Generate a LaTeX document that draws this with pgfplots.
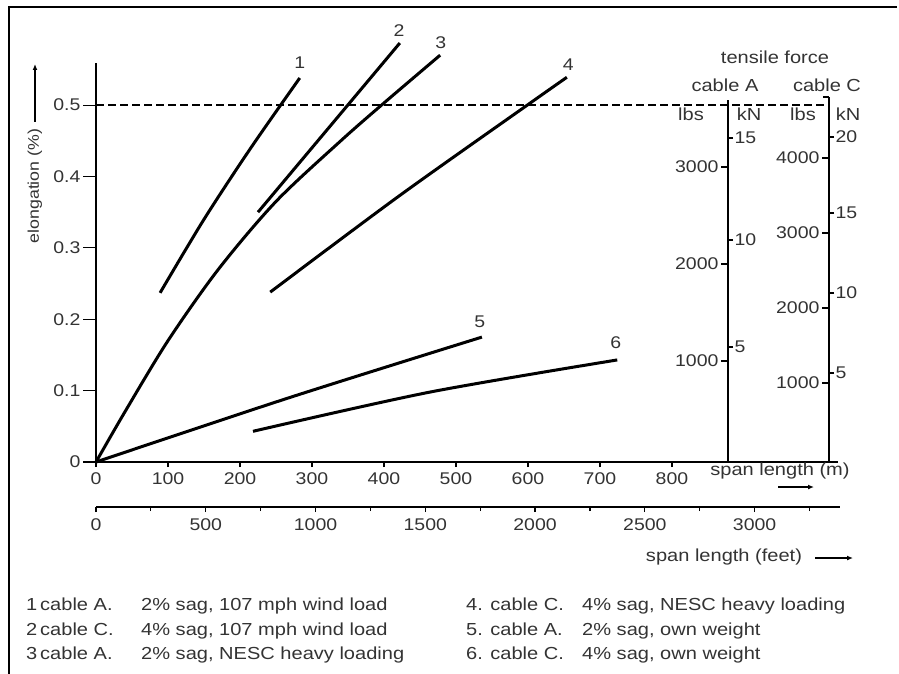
\documentclass[border=0pt]{standalone}
\usepackage{fontspec}
\setmainfont{Liberation Sans}[FakeStretch=1.15]
\usepackage{pgfplots}
\pgfplotsset{compat=1.18}
\usetikzlibrary{arrows.meta}
\begin{document}
\begin{tikzpicture}
\pgfplotsset{
  common/.style={scale only axis, anchor=south west, clip=false,
    tick align=outside,
    /pgf/number format/assume math mode=true,
    /pgf/number format/1000 sep={},
    ticklabel style={font=\fontsize{17}{17}\selectfont, text=black!80},
    tick style={line width=1.2bp, black},
    axis line style={line width=1.5bp, black}},
}
\begin{scope}[x=1bp,y=1bp]
\useasboundingbox (0,0) rectangle (899,-674);
\draw[line width=1.5bp] (9,-674) -- (9,-7) -- (897,-7);
\end{scope}

% main axis with curves
\begin{axis}[common,
  at={(96bp,-462bp)}, width=742bp, height=399bp,
  xmin=0, xmax=1030.6, ymin=0, ymax=0.559,
  axis x line*=bottom, axis y line*=left,
  xtick={0,100,200,300,400,500,600,700,800},
  ytick=\empty,
  major tick length=5bp,
  x axis line style={line width=2.4bp},
  xticklabel style={yshift=-2bp},
]
\addplot[black, line width=1.5bp, dash pattern=on 8bp off 4bp] coordinates {(0,0.5) (1018,0.5)};
% 1
\addplot[black, line width=3bp, smooth] coordinates {(89,0.237) (150,0.34) (215,0.44) (283,0.538)};
% 2
\addplot[black, line width=3bp] coordinates {(225,0.35) (422,0.587)};
% 3
\addplot[black, line width=3bp, smooth] coordinates {(0,0) (40,0.07) (100,0.17) (170,0.27) (250,0.365) (340,0.45) (400,0.503) (478,0.57)};
% 4
\addplot[black, line width=3bp, smooth] coordinates {(242,0.238) (420,0.372) (599,0.5) (654,0.539)};
% 5
\addplot[black, line width=3bp, smooth] coordinates {(0,0) (268,0.09) (536,0.175)};
% 6
\addplot[black, line width=3bp, smooth] coordinates {(218,0.043) (464,0.098) (724,0.143)};
\begin{scope}[every node/.style={font=\fontsize{17}{17}\selectfont, text=black!80}]
\node at (axis cs:283,0.559) {1};
\node at (axis cs:421,0.605) {2};
\node at (axis cs:479,0.588) {3};
\node at (axis cs:656,0.556) {4};
\node at (axis cs:533,0.196) {5};
\node at (axis cs:722,0.167) {6};
\end{scope}
\end{axis}

% y axis with long ticks
\begin{axis}[common,
  at={(96bp,-462bp)}, width=742bp, height=399bp,
  xmin=0, xmax=1030.6, ymin=0, ymax=0.559,
  axis y line*=left, axis x line=none,
  ytick={0,0.1,0.2,0.3,0.4,0.5},
  yticklabels={0,0.1,0.2,0.3,0.4,0.5},
  major tick length=13bp,
  yticklabel style={xshift=1bp},
]
\end{axis}

% feet axis
\begin{axis}[common,
  at={(96bp,-507bp)}, width=744bp, height=10bp,
  xmin=0, xmax=3389, ymin=0, ymax=1,
  axis x line*=bottom, axis y line=none,
  xtick={0,500,1000,1500,2000,2500,3000},
  minor xtick={250,750,1250,1750,2250,2750,3250},
  major tick length=5bp, minor tick length=4bp,
  x axis line style={line width=2.4bp},
  xticklabel style={yshift=-3bp},
]
\end{axis}

% cable A lbs
\begin{axis}[common,
  at={(728bp,-462bp)}, width=10bp, height=362bp,
  xmin=0, xmax=1, ymin=-41, ymax=3691,
  axis y line*=left, axis x line=none,
  ytick={1000,2000,3000}, major tick length=7bp,
  yticklabel style={xshift=1bp},
]
\end{axis}
% cable A kN
\begin{axis}[common,
  at={(718bp,-462bp)}, width=10bp, height=362bp,
  xmin=0, xmax=1, ymin=-41, ymax=3691,
  axis y line*=right, axis x line=none,
  ytick={1144,2247,3299}, yticklabels={5,10,15}, major tick length=5bp,
  yticklabel style={xshift=-2bp},
]
\end{axis}
% cable C lbs
\begin{axis}[common,
  at={(829bp,-462bp)}, width=10bp, height=365bp,
  xmin=0, xmax=1, ymin=-53, ymax=4813,
  axis y line*=left, axis x line=none,
  ytick={1000,2000,3000,4000}, major tick length=7bp,
  yticklabel style={xshift=1bp},
]
\end{axis}
% cable C kN
\begin{axis}[common,
  at={(819bp,-462bp)}, width=10bp, height=365bp,
  xmin=0, xmax=1, ymin=-53, ymax=4813,
  axis y line*=right, axis x line=none,
  ytick={1133,2200,3267,4280}, yticklabels={5,10,15,20}, major tick length=5bp,
  yticklabel style={xshift=-2bp},
]
\end{axis}

\begin{scope}[x=1bp,y=1bp, every node/.style={font=\fontsize{17.5}{17.5}\selectfont, text=black!80, inner sep=0pt}]
\draw[line width=1.5bp] (823,-97) -- (829,-97);
\node at (775,-57) {tensile force};
\node at (725,-85) {cable A};
\node at (827,-85) {cable C};
\node at (691,-114) {lbs};
\node at (749,-114) {kN};
\node at (803,-114) {lbs};
\node at (848,-114) {kN};
\node at (780,-471) {span length (m)};
\draw[line width=2bp, -{Latex[length=6bp,width=5bp]}] (778,-487) -- (814,-487);
\node at (724,-557) {span length (feet)};
\draw[line width=2bp, -{Latex[length=6bp,width=5bp]}] (815,-558) -- (853,-558);
\node[rotate=90, font=\fontsize{15.5}{15.5}\selectfont] at (35,-186) {elongation (\%)};
\draw[line width=2bp, -{Latex[length=6bp,width=5bp]}] (35,-122) -- (35,-64);
\end{scope}
\begin{scope}[x=1bp,y=1bp, every node/.style={font=\fontsize{17.5}{17.5}\selectfont, text=black!80, inner sep=0pt}]
% legend
\foreach \y/\n/\c/\t in {610/1/cable A./{2\% sag, 107 mph wind load},
                         635/2/cable C./{4\% sag, 107 mph wind load},
                         659/3/cable A./{2\% sag, NESC heavy loading}}{
  \node[anchor=base west] at (26,-\y) {\n};
  \node[anchor=base west] at (40,-\y) {\c};
  \node[anchor=base west] at (141,-\y) {\t};
}
\node[anchor=base west] at (466,-610) {4. cable C.};
\node[anchor=base west] at (582,-610) {4\% sag, NESC heavy loading};
\node[anchor=base west] at (466,-635) {5. cable A.};
\node[anchor=base west] at (582,-635) {2\% sag, own weight};
\node[anchor=base west] at (466,-659) {6. cable C.};
\node[anchor=base west] at (582,-659) {4\% sag, own weight};
\end{scope}
\end{tikzpicture}
\end{document}
